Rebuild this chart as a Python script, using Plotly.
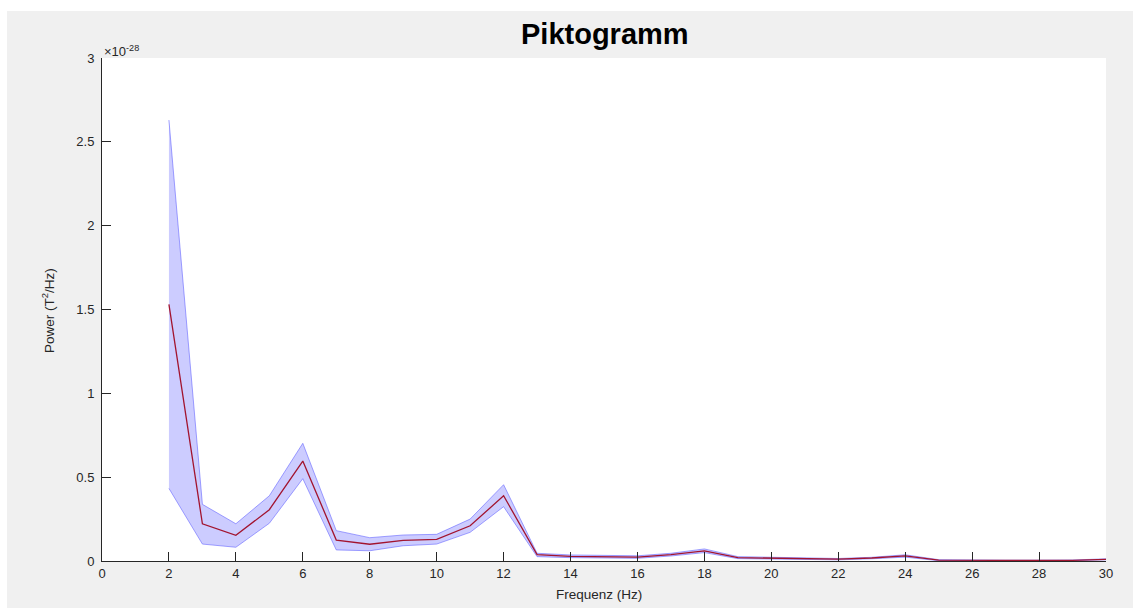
import plotly.graph_objects as go

# Frequency bins (Hz)
freq = list(range(2, 31))

# Mean power spectrum, in units of 1e-28 T^2/Hz
power_mean = [1.53, 0.222, 0.153, 0.306, 0.596, 0.125, 0.100, 0.123, 0.129, 0.210,
              0.389, 0.038, 0.028, 0.027, 0.023, 0.038, 0.060, 0.020, 0.016, 0.013,
              0.011, 0.018, 0.030, 0.005, 0.003, 0.003, 0.003, 0.004, 0.010]

# Upper and lower bounds of the shaded band
power_upper = [2.63, 0.338, 0.222, 0.389, 0.702, 0.181, 0.139, 0.155, 0.159, 0.250,
               0.455, 0.046, 0.036, 0.035, 0.031, 0.046, 0.072, 0.026, 0.021, 0.017,
               0.015, 0.022, 0.037, 0.008, 0.005, 0.005, 0.005, 0.006, 0.013]
power_lower = [0.433, 0.101, 0.082, 0.225, 0.491, 0.066, 0.061, 0.091, 0.101, 0.171,
               0.324, 0.026, 0.020, 0.019, 0.016, 0.030, 0.050, 0.014, 0.011, 0.009,
               0.007, 0.013, 0.023, 0.002, 0.001, 0.001, 0.001, 0.002, 0.007]

x_ticks = list(range(0, 31, 2))
y_ticks = [0, 0.5, 1, 1.5, 2, 2.5, 3]
y_tick_text = ["0", "0.5", "1", "1.5", "2", "2.5", "3"]

FONT = "Liberation Sans, Arial, Helvetica, sans-serif"
INK = "#262626"
BG = "#f0f0f0"

W, H = 1133, 608
L, R, T, B = 102, 27, 58, 47
pw, ph = W - L - R, H - T - B

fig = go.Figure()

fig.add_trace(go.Scatter(
    x=freq, y=power_upper, mode="lines",
    line=dict(color="rgba(90,90,255,0.55)", width=1),
    hoverinfo="skip", showlegend=False,
))
fig.add_trace(go.Scatter(
    x=freq, y=power_lower, mode="lines", fill="tonexty",
    fillcolor="rgba(0,0,255,0.2)",
    line=dict(color="rgba(90,90,255,0.55)", width=1),
    hoverinfo="skip", showlegend=False,
))
fig.add_trace(go.Scatter(
    x=freq, y=power_mean, mode="lines",
    line=dict(color="#a2142f", width=1.3),
    showlegend=False,
))

axis_common = dict(
    showline=True, linecolor=INK, linewidth=1,
    ticks="inside", ticklen=9, tickcolor=INK, tickwidth=1,
    showgrid=False, zeroline=False, mirror=False,
    tickfont=dict(family=FONT, size=13, color=INK),
)

fig.update_xaxes(range=[0, 30], tickvals=x_ticks, **axis_common)
fig.update_yaxes(range=[0, 3], tickvals=y_ticks, ticktext=y_tick_text,
                 ticklabelstandoff=4, **axis_common)

def px_to_paper_x(p):
    return (p - L) / pw

def px_to_paper_y(p):
    return (H - B - p) / ph

fig.update_layout(
    width=W, height=H,
    margin=dict(l=L, r=R, t=T, b=B, pad=0),
    paper_bgcolor=BG, plot_bgcolor="white",
    showlegend=False,
    shapes=[
        # thin white strips along the top and left edges of the figure
        dict(type="rect", xref="paper", yref="paper", layer="below",
             x0=px_to_paper_x(0), x1=px_to_paper_x(W),
             y0=px_to_paper_y(11), y1=px_to_paper_y(0),
             fillcolor="white", line=dict(width=0)),
        dict(type="rect", xref="paper", yref="paper", layer="below",
             x0=px_to_paper_x(0), x1=px_to_paper_x(7),
             y0=px_to_paper_y(H), y1=px_to_paper_y(0),
             fillcolor="white", line=dict(width=0)),
    ],
    annotations=[
        dict(text="<b>Piktogramm</b>", xref="paper", yref="paper",
             x=px_to_paper_x(605), y=px_to_paper_y(34),
             xanchor="center", yanchor="middle", showarrow=False,
             font=dict(family=FONT, size=29, color="black")),
        dict(text="Frequenz (Hz)", xref="paper", yref="paper",
             x=px_to_paper_x(599), y=px_to_paper_y(594),
             xanchor="center", yanchor="middle", showarrow=False,
             font=dict(family=FONT, size=13.5, color=INK)),
        dict(text="Power (T<sup>2</sup>/Hz)", xref="paper", yref="paper",
             x=px_to_paper_x(48), y=px_to_paper_y(311), textangle=-90,
             xanchor="center", yanchor="middle", showarrow=False,
             font=dict(family=FONT, size=13.5, color=INK)),
        dict(text="×10<sup>-28</sup>", xref="paper", yref="paper",
             x=px_to_paper_x(102), y=px_to_paper_y(51),
             xanchor="left", yanchor="middle", showarrow=False,
             font=dict(family=FONT, size=13, color=INK)),
    ],
)

fig.write_html("out.html")
